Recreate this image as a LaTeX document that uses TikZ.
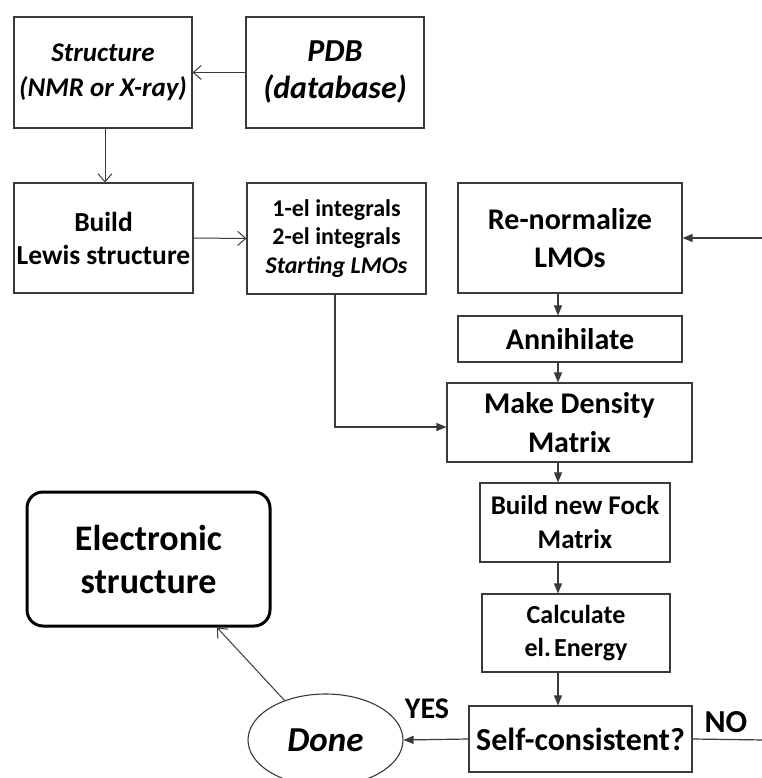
\documentclass[tikz,border=0pt]{standalone}
\usepackage{fontspec}
\setmainfont{Carlito}
\usetikzlibrary{arrows.meta,shapes.geometric}
\definecolor{ln}{HTML}{3A3A3A}
\tikzset{
  box/.style={draw=ln, line width=1.1pt, rectangle, inner sep=0pt, align=center, font=\bfseries},
  openarr/.style={draw=ln, line width=1pt, -{Straight Barb[length=8pt,width=14pt,line width=1pt]}},
  fillarr/.style={draw=ln, line width=1.2pt, -{Triangle[length=10pt,width=8pt]}},
  plain/.style={draw=ln, line width=1.2pt},
  lbl/.style={font=\bfseries\fontsize{30}{34}\selectfont, inner sep=0pt}
}
\begin{document}
\begin{tikzpicture}[x=1pt,y=-1pt]
\useasboundingbox (0,0) rectangle (761,778);
\fill[white] (0,0) rectangle (761,778);

\node[box, minimum width=178pt, minimum height=111pt, font=\bfseries\itshape\fontsize{27}{35}\selectfont] (struct) at (103,72.5) {Structure\\(NMR or X-ray)};
\node[box, minimum width=178pt, minimum height=111pt, font=\bfseries\itshape\fontsize{32}{37}\selectfont] (pdb) at (335,72.5) {PDB\\(database)};
\node[box, minimum width=179pt, minimum height=110pt, font=\bfseries\fontsize{27.5}{33}\selectfont] (lewis) at (103.5,238) {Build\\Lewis structure};
\node[box, minimum width=179pt, minimum height=111pt, font=\bfseries\fontsize{24}{28.5}\selectfont] (integ) at (336.5,238.5) {1-el integrals\\2-el integrals\\\textit{Starting LMOs}};
\node[box, minimum width=224pt, minimum height=110pt, font=\bfseries\fontsize{30}{38}\selectfont] (renorm) at (570,238) {Re-normalize\\LMOs};
\node[box, minimum width=224pt, minimum height=46pt, font=\bfseries\fontsize{30}{34}\selectfont] (annih) at (570,339) {Annihilate};
\node[box, minimum width=245pt, minimum height=79pt, font=\bfseries\fontsize{30}{39}\selectfont] (dens) at (569.5,422.5) {Make Density\\Matrix};
\node[box, minimum width=190pt, minimum height=79pt, font=\bfseries\fontsize{27}{34}\selectfont] (fock) at (575,522.5) {Build new Fock\\Matrix};
\node[box, minimum width=188pt, minimum height=78pt, font=\bfseries\fontsize{26}{33}\selectfont] (calc) at (576,633) {Calculate\\el.\hspace{0.12em}Energy};
\node[box, minimum width=223pt, minimum height=66pt, font=\bfseries\fontsize{32}{34}\selectfont] (selfc) at (580.5,739) {Self-consistent?};
\node[draw=ln, line width=1.1pt, ellipse, minimum width=155pt, minimum height=92pt, inner sep=0pt, font=\bfseries\itshape\fontsize{35}{36}\selectfont] (done) at (325.5,740) {Done};
\node[draw=black, line width=3pt, rectangle, rounded corners=16pt, minimum width=243pt, minimum height=134pt, inner sep=0pt, align=center, font=\bfseries\fontsize{36}{43}\selectfont] (elec) at (148.5,559) {Electronic\\structure};

\node[lbl] (yes) at (427,709) {YES};
\node[lbl, font=\bfseries\fontsize{32}{34}\selectfont] (no) at (726,722) {NO};

\coordinate (colx) at (558,0);
\coordinate (rin) at (765,238);
\coordinate (rout) at (765,740);

\draw[openarr] (pdb.west) -- (struct.east);
\draw[openarr] ([xshift=2pt]struct.south) -- ([xshift=1.5pt]lewis.north);
\draw[openarr] (lewis.east) -- (integ.west);
\draw[fillarr] ([xshift=-1.5pt]integ.south) |- ([yshift=-4.5pt]dens.west);

\draw[fillarr] (rin) -- (renorm.east);
\draw[fillarr] (renorm.south -| colx) -- (annih.north -| colx);
\draw[fillarr] (annih.south -| colx) -- (dens.north -| colx);
\draw[fillarr] (dens.south -| colx) -- (fock.north -| colx);
\draw[fillarr] (fock.south -| colx) -- (calc.north -| colx);
\draw[fillarr] (calc.south -| colx) -- (selfc.north -| colx);
\draw[plain] (selfc.east) -- (rout);
\draw[fillarr] (selfc.west) -- (done.east);
\draw[openarr] (done.136) -- ([xshift=68.5pt]elec.south);
\end{tikzpicture}
\end{document}
